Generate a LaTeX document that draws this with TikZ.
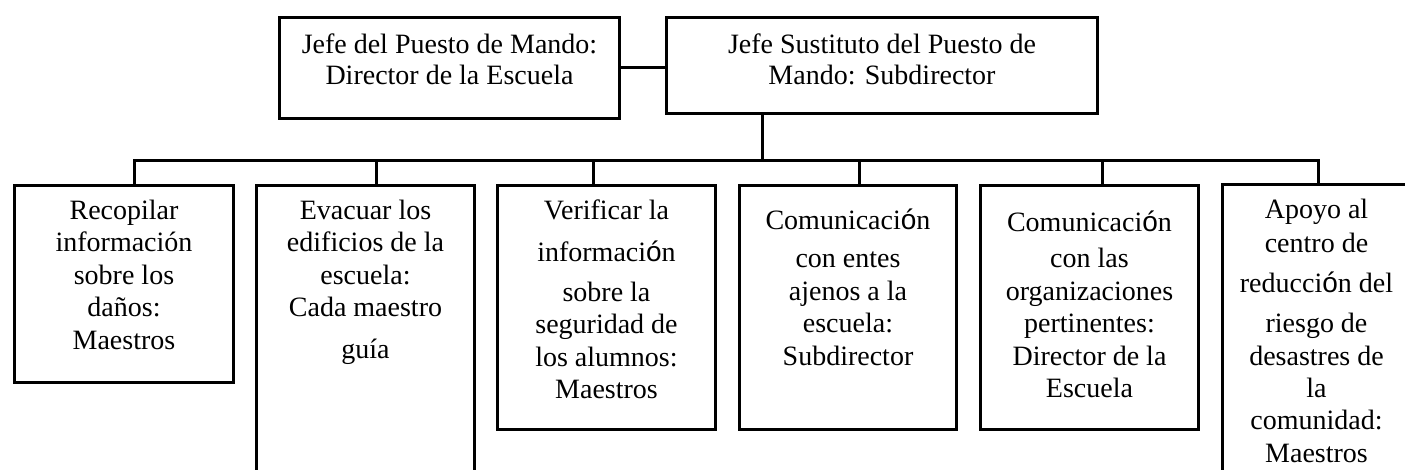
\documentclass[tikz,border=0pt]{standalone}
\usepackage{fontspec}
\setmainfont{Liberation Serif}
\newfontfamily\arialfont{Liberation Sans}
\newcommand{\osans}{{\arialfont ó}}
\newcommand{\caja}[4]{\parbox[c][#2][t]{#1}{\centering\rule{0pt}{#3}#4}}

\begin{document}
\begin{tikzpicture}[x=0.5pt, y=-0.5pt, line width=1.5pt,
    rol/.style={draw, line width=1.5pt, inner sep=0pt, anchor=north west,
                font=\fontsize{14pt}{16.2pt}\selectfont}]
    \useasboundingbox (0,0) rectangle (1405,470);
    \clip (0,0) rectangle (1405,470);

    % Jefes del puesto de mando
    \node [rol] (jefe) at (278,16) {\caja{170pt}{50.5pt}{18pt}{Jefe del Puesto de Mando:\\[-0.6pt] Director de la Escuela}};
    \node [rol] (sustituto) at (665,16) {\caja{215.5pt}{48pt}{18pt}{Jefe Sustituto del Puesto de\\[-0.6pt] Mando: Subdirector}};

    % Funciones
    \node [rol] (danos) at (13,184) {\caja{109.5pt}{98.5pt}{17pt}{Recopilar\\ información\\ sobre los\\ daños:\\ Maestros}};
    \node [rol] (evacuar) at (255,184) {\caja{109pt}{150pt}{17pt}{Evacuar los\\ edificios de la\\ escuela:\\ Cada maestro\\[4.75pt] guía}};
    \node [rol] (verificar) at (496,184) {\caja{109pt}{122pt}{17pt}{Verificar la\\[4.75pt] informaci\osans n\\[3.75pt] sobre la\\ seguridad de\\ los alumnos:\\ Maestros}};
    \node [rol] (externos) at (738,184) {\caja{108.5pt}{122pt}{22pt}{Comunicaci\osans n\\[3pt] con entes\\ ajenos a la\\ escuela:\\ Subdirector}};
    \node [rol] (organizaciones) at (979,184) {\caja{109pt}{122pt}{23pt}{Comunicaci\osans n\\[2pt] con las\\ organizaciones\\ pertinentes:\\ Director de la\\ Escuela}};
    \node [rol] (apoyo) at (1221,183) {\caja{94pt}{150pt}{17pt}{Apoyo al\\[1pt] centro de\\[3.75pt] reducci\osans n del\\[3.75pt] riesgo de\\ desastres de\\ la\\ comunidad:\\ Maestros}};

    % Puntos del bus
    \coordinate (bS) at (762,161);
    \coordinate (bA) at (134,161);
    \coordinate (bB) at (376,161);
    \coordinate (bC) at (593,161);
    \coordinate (bD) at (859,161);
    \coordinate (bE) at (1102,161);
    \coordinate (bF) at (1318,161);

    % Conexiones
    \draw (jefe.east) -- (jefe.east -| sustituto.west);
    \draw (bS |- sustituto.south) -- (bS);
    \draw (bA |- danos.north) -- (bA) -- (bF) -- (bF |- apoyo.north);
    \foreach \b/\n in {bB/evacuar, bC/verificar, bD/externos, bE/organizaciones}
        \draw (\b) -- (\b |- \n.north);
\end{tikzpicture}
\end{document}
